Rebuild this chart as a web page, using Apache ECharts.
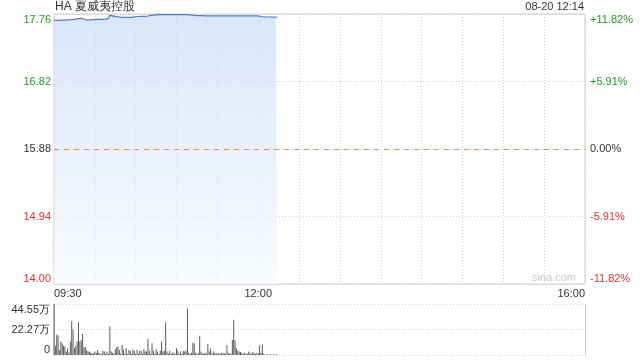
<!DOCTYPE html>
<html>
<head>
<meta charset="utf-8">
<script src="https://cdn.jsdelivr.net/npm/echarts@6/dist/echarts.min.js"></script>
<style>html,body{margin:0;padding:0;background:#fff}#c{width:640px;height:360px}</style>
</head>
<body>
<div id="c"></div>
<script>
const titleText = 'HA 夏威夷控股';
const stampText = '08-20 12:14';
const prevClose = 15.88;
const priceTicks = [14.00, 14.94, 15.88, 16.82, 17.76];
const pctTicks = [-11.82, -5.91, 0, 5.91, 11.82];
const volTicks = [0, 22.275, 44.55];
const timeTicks = [0, 150, 390];
const timeLabels = ['09:30', '12:00', '16:00'];

const prices = [
17.676,17.672,17.670,17.668,17.670,17.672,17.674,17.672,17.675,17.676,
17.678,17.676,17.680,17.682,17.684,17.684,17.688,17.692,17.696,17.700,
17.698,17.695,17.690,17.682,17.676,17.676,17.678,17.680,17.682,17.680,
17.682,17.684,17.686,17.686,17.684,17.686,17.684,17.684,17.688,17.690,
17.700,17.742,17.740,17.735,17.732,17.728,17.722,17.720,17.718,17.716,
17.716,17.714,17.714,17.714,17.712,17.714,17.716,17.714,17.716,17.720,
17.722,17.725,17.726,17.726,17.728,17.728,17.726,17.728,17.728,17.732,
17.736,17.740,17.742,17.745,17.748,17.748,17.749,17.750,17.750,17.750,
17.750,17.751,17.750,17.750,17.751,17.750,17.750,17.750,17.751,17.750,
17.750,17.750,17.750,17.751,17.750,17.750,17.750,17.750,17.750,17.749,
17.750,17.748,17.746,17.740,17.738,17.737,17.736,17.736,17.735,17.736,
17.735,17.734,17.735,17.734,17.733,17.734,17.735,17.734,17.733,17.734,
17.735,17.734,17.734,17.733,17.734,17.735,17.734,17.733,17.734,17.735,
17.734,17.734,17.733,17.734,17.735,17.734,17.733,17.734,17.734,17.735,
17.734,17.733,17.734,17.735,17.734,17.734,17.733,17.734,17.735,17.734,
17.733,17.730,17.726,17.722,17.720,17.719,17.718,17.718,17.719,17.718,
17.718,17.717,17.718,17.718,17.718
];

const volumes = [
44.55,8,17.6,17,4,11.8,10.3,8,7.4,3,
5.9,2,11.8,29.4,22,5.9,8,11.8,28.5,11.8,
13.2,18.5,6.8,6.8,4.4,3,3,2,2,1,
3,2,4.4,2,1,1,3.8,3,1,3,
1,25,3,2,1,5,6.8,7.4,4.4,1,
8.8,5,1,5.9,1,4.4,3.8,1,5,3.8,
1,4.4,1,3.8,3.8,1,5,3,3,14,
3.8,1,10.3,3.8,1,5,3,1,3.8,11.8,
3,3.8,28.5,3,1,3.8,1,2,2,1,
5.9,3.8,1,3,1,3.8,3,3.8,40.6,2,
1,2,10.6,10,2,1,1.5,16.8,3,1,
1.5,2,1,9.7,3,5.9,1,3,1.5,2,
1,1.5,1,2,1.5,2,1,8.5,2,1,
1.5,13.2,30.9,12.6,5.9,3.8,3,2.6,2,1,
2,1.5,1,3,2,1,2.6,1.5,1,2,
1.5,8.5,2,9.4,1,0.5,0.5,0.5,0.5,0.5,
0.5,0.5,0.5,0.5,0.5
];

const GREEN = '#1c9e1c', RED = '#ee2d2d', DARK = '#333';
const FONT = 'Liberation Sans, Arial, sans-serif';
const priceData = prices.map((v, i) => [i, v]);
const volData = volumes.map((v, i) => [i, v]);
const dotted = { show: true, lineStyle: { color: '#cfcfcf', type: [1, 2], width: 1 } };

const chart = echarts.init(document.getElementById('c'), null, { renderer: 'canvas' });
chart.setOption({
  animation: false,
  textStyle: { fontFamily: FONT },
  title: [
    { text: titleText, left: 55, top: 1, padding: 0, textStyle: { fontSize: 12, fontWeight: 'normal', color: DARK, fontFamily: FONT } },
    { text: stampText, right: 56, top: 1, padding: 0, textStyle: { fontSize: 11, fontWeight: 'normal', color: DARK, fontFamily: FONT } },
    { text: 'sina.com', left: 532, top: 272, padding: 0, textStyle: { fontSize: 11, fontWeight: 'normal', color: '#c8c8c8', fontFamily: FONT } }
  ],
  grid: [
    { left: 54, top: 14, width: 531, height: 270, show: true, borderColor: '#cccccc', borderWidth: 1, backgroundColor: 'transparent' },
    { left: 54, top: 304, width: 531, height: 51, show: false }
  ],
  xAxis: [
    {
      type: 'value', gridIndex: 0, min: 0, max: 390, interval: 30,
      axisLine: { show: false }, axisTick: { show: false },
      splitLine: dotted,
      axisLabel: {
        show: true, fontSize: 11, color: DARK, margin: 4, fontFamily: FONT,
        alignMinLabel: 'left', alignMaxLabel: 'right',
        formatter: v => { const k = timeTicks.indexOf(v); return k >= 0 ? timeLabels[k] : ''; }
      }
    },
    {
      type: 'value', gridIndex: 1, min: 0, max: 390, interval: 30,
      axisLine: { show: false }, axisTick: { show: false }, splitLine: { show: false }, axisLabel: { show: false }
    }
  ],
  yAxis: [
    {
      type: 'value', gridIndex: 0, position: 'left',
      min: priceTicks[0], max: priceTicks[priceTicks.length - 1], interval: 0.94,
      axisLine: { show: false }, axisTick: { show: false },
      splitLine: dotted,
      axisLabel: {
        fontSize: 11, margin: 3, fontFamily: FONT,
        verticalAlignMinLabel: 'bottom', verticalAlignMaxLabel: 'top',
        color: v => (Math.abs(v - prevClose) < 1e-6 ? DARK : (v > prevClose ? GREEN : RED)),
        formatter: v => v.toFixed(2)
      }
    },
    {
      type: 'value', gridIndex: 0, position: 'right',
      min: pctTicks[0], max: pctTicks[pctTicks.length - 1], interval: 5.91,
      axisLine: { show: false }, axisTick: { show: false }, splitLine: { show: false },
      axisLabel: {
        fontSize: 11, margin: 5, fontFamily: FONT,
        verticalAlignMinLabel: 'bottom', verticalAlignMaxLabel: 'top',
        color: v => (Math.abs(v) < 1e-6 ? DARK : (v > 0 ? GREEN : RED)),
        formatter: v => (v > 1e-6 ? '+' : '') + v.toFixed(2) + '%'
      }
    },
    {
      type: 'value', gridIndex: 1, position: 'left',
      min: volTicks[0], max: volTicks[volTicks.length - 1], interval: 22.275,
      axisLine: { show: true, lineStyle: { color: '#cccccc' } }, axisTick: { show: false },
      splitLine: dotted,
      axisLabel: {
        fontSize: 11, margin: 4, color: DARK, fontFamily: FONT,
        verticalAlignMinLabel: 'bottom', verticalAlignMaxLabel: 'top',
        formatter: v => (v === 0 ? '0' : v.toFixed(2) + '万')
      }
    },
    {
      type: 'value', gridIndex: 1, position: 'right',
      min: volTicks[0], max: volTicks[volTicks.length - 1], interval: 22.275,
      axisLine: { show: true, lineStyle: { color: '#cccccc' } }, axisTick: { show: false },
      splitLine: { show: false }, axisLabel: { show: false }
    }
  ],
  series: [
    {
      type: 'line', xAxisIndex: 0, yAxisIndex: 0, data: priceData,
      showSymbol: false, symbol: 'none', smooth: false,
      lineStyle: { color: '#4a7cd6', width: 1.2 },
      areaStyle: {
        origin: 'start',
        color: new echarts.graphic.LinearGradient(0, 0, 0, 1, [
          { offset: 0, color: '#c9dbf7' },
          { offset: 1, color: '#f6f9fe' }
        ])
      },
      markLine: {
        silent: true, symbol: 'none', label: { show: false },
        lineStyle: { color: '#ef8a52', type: [5, 5], width: 1, opacity: 1 },
        data: [{ yAxis: prevClose }]
      }
    },
    {
      type: 'bar', xAxisIndex: 1, yAxisIndex: 2, data: volData,
      barWidth: 1, itemStyle: { color: '#5a5a5a' }
    }
  ]
});
</script>
</body>
</html>
